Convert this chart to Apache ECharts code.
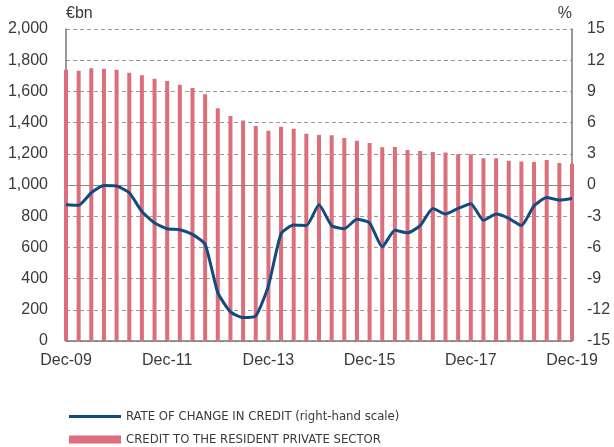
<!DOCTYPE html>
<html>
<head>
<meta charset="utf-8">
<script src="https://cdn.jsdelivr.net/npm/echarts@6/dist/echarts.min.js"></script>
<style>
  html, body { margin: 0; padding: 0; background: #fff; }
  #chart { width: 614px; height: 447px; }
</style>
</head>
<body>
<div id="chart"></div>
<script>
// quarterly, Dec-09 .. Dec-19
const quarters = [];
const qNames = ["Mar", "Jun", "Sep", "Dec"];
quarters.push("Dec-09");
for (let y = 10; y <= 19; y++) {
  for (const q of qNames) quarters.push(q + "-" + y);
}

// credit to the resident private sector, €bn
const creditStock = [
  1739, 1732, 1749, 1745, 1739, 1719, 1704, 1681, 1666, 1642,
  1621, 1582, 1492, 1443, 1413, 1379, 1347, 1373, 1360, 1328,
  1321, 1319, 1302, 1283, 1270, 1242, 1244, 1225, 1218, 1212,
  1208, 1197, 1197, 1171, 1171, 1156, 1150, 1148, 1161, 1141,
  1137
];

// rate of change in credit, % (right-hand scale)
const creditRate = [
  -1.9, -1.95, -0.75, -0.05, -0.1, -0.75, -2.55, -3.65, -4.2, -4.3,
  -4.75, -5.7, -10.35, -12.2, -12.75, -12.6, -9.7, -4.7, -3.85, -3.9,
  -1.9, -3.9, -4.2, -3.3, -3.65, -5.95, -4.35, -4.6, -3.9, -2.25,
  -2.8, -2.25, -1.8, -3.4, -2.8, -3.2, -3.9, -2.0, -1.2, -1.45,
  -1.3
];

const leftTicks = [0, 2000, 200];
const rightTicks = [-15, 15, 3];

const labelFont = "Liberation Sans";
const legendFont = "'DejaVu Sans Condensed', 'Liberation Sans', sans-serif";
const textColor = "#3a3a3a";
const axisColor = "#777777";

const chart = echarts.init(document.getElementById("chart"));
chart.setOption({
  animation: false,
  backgroundColor: "#ffffff",
  grid: { left: 66, right: 42, top: 29, bottom: 106 },
  graphic: [
    { type: "text", left: 66, top: 6, style: { text: "€bn", font: "16px " + labelFont, fill: textColor } },
    { type: "text", right: 42, top: 6, style: { text: "%", font: "16px " + labelFont, fill: textColor } },
  ],
  legend: [
    {
      data: ["RATE OF CHANGE IN CREDIT (right-hand scale)"],
      left: 64, top: 405,
      icon: "rect", itemWidth: 52, itemHeight: 3,
      selectedMode: false,
      textStyle: { fontFamily: legendFont, fontSize: 13, color: textColor },
    },
    {
      data: ["CREDIT TO THE RESIDENT PRIVATE SECTOR"],
      left: 64, top: 428,
      icon: "rect", itemWidth: 52, itemHeight: 8,
      selectedMode: false,
      textStyle: { fontFamily: legendFont, fontSize: 13, color: textColor },
    },
  ],
  xAxis: {
    type: "category",
    data: quarters,
    boundaryGap: false,
    axisLine: { lineStyle: { color: axisColor, width: 1.5 } },
    axisTick: { interval: 7, inside: true, length: 4, lineStyle: { color: axisColor } },
    axisLabel: {
      interval: 7, margin: 12,
      fontFamily: labelFont, fontSize: 16, color: textColor,
    },
    splitLine: { show: false },
  },
  yAxis: [
    {
      type: "value",
      min: leftTicks[0], max: leftTicks[1], interval: leftTicks[2],
      axisLine: { show: true, lineStyle: { color: axisColor, width: 1.5 } },
      axisTick: { show: false },
      axisLabel: {
        margin: 18, fontFamily: labelFont, fontSize: 16, color: textColor,
        formatter: (v) => v.toLocaleString("en-US"),
      },
      splitLine: { lineStyle: { color: "#999999", type: [4, 3], width: 1 } },
    },
    {
      type: "value",
      min: rightTicks[0], max: rightTicks[1], interval: rightTicks[2],
      axisLine: { show: true, lineStyle: { color: axisColor, width: 1.5 } },
      axisTick: { show: false },
      axisLabel: { margin: 15, fontFamily: labelFont, fontSize: 16, color: textColor },
      splitLine: { show: false },
    },
  ],
  series: [
    {
      name: "CREDIT TO THE RESIDENT PRIVATE SECTOR",
      type: "bar",
      yAxisIndex: 0,
      data: creditStock,
      barWidth: 4,
      itemStyle: { color: "#dc6f7b" },
      markLine: {
        silent: true, symbol: "none", label: { show: false },
        lineStyle: { color: "#888888", type: "solid", width: 1.2 },
        data: [{ yAxis: 1000 }],
      },
    },
    {
      name: "RATE OF CHANGE IN CREDIT (right-hand scale)",
      type: "line",
      yAxisIndex: 1,
      data: creditRate,
      smooth: 0.18,
      showSymbol: false,
      lineStyle: { color: "#124b80", width: 3 },
      itemStyle: { color: "#124b80" },
      z: 5,
    },
  ],
});
</script>
</body>
</html>
